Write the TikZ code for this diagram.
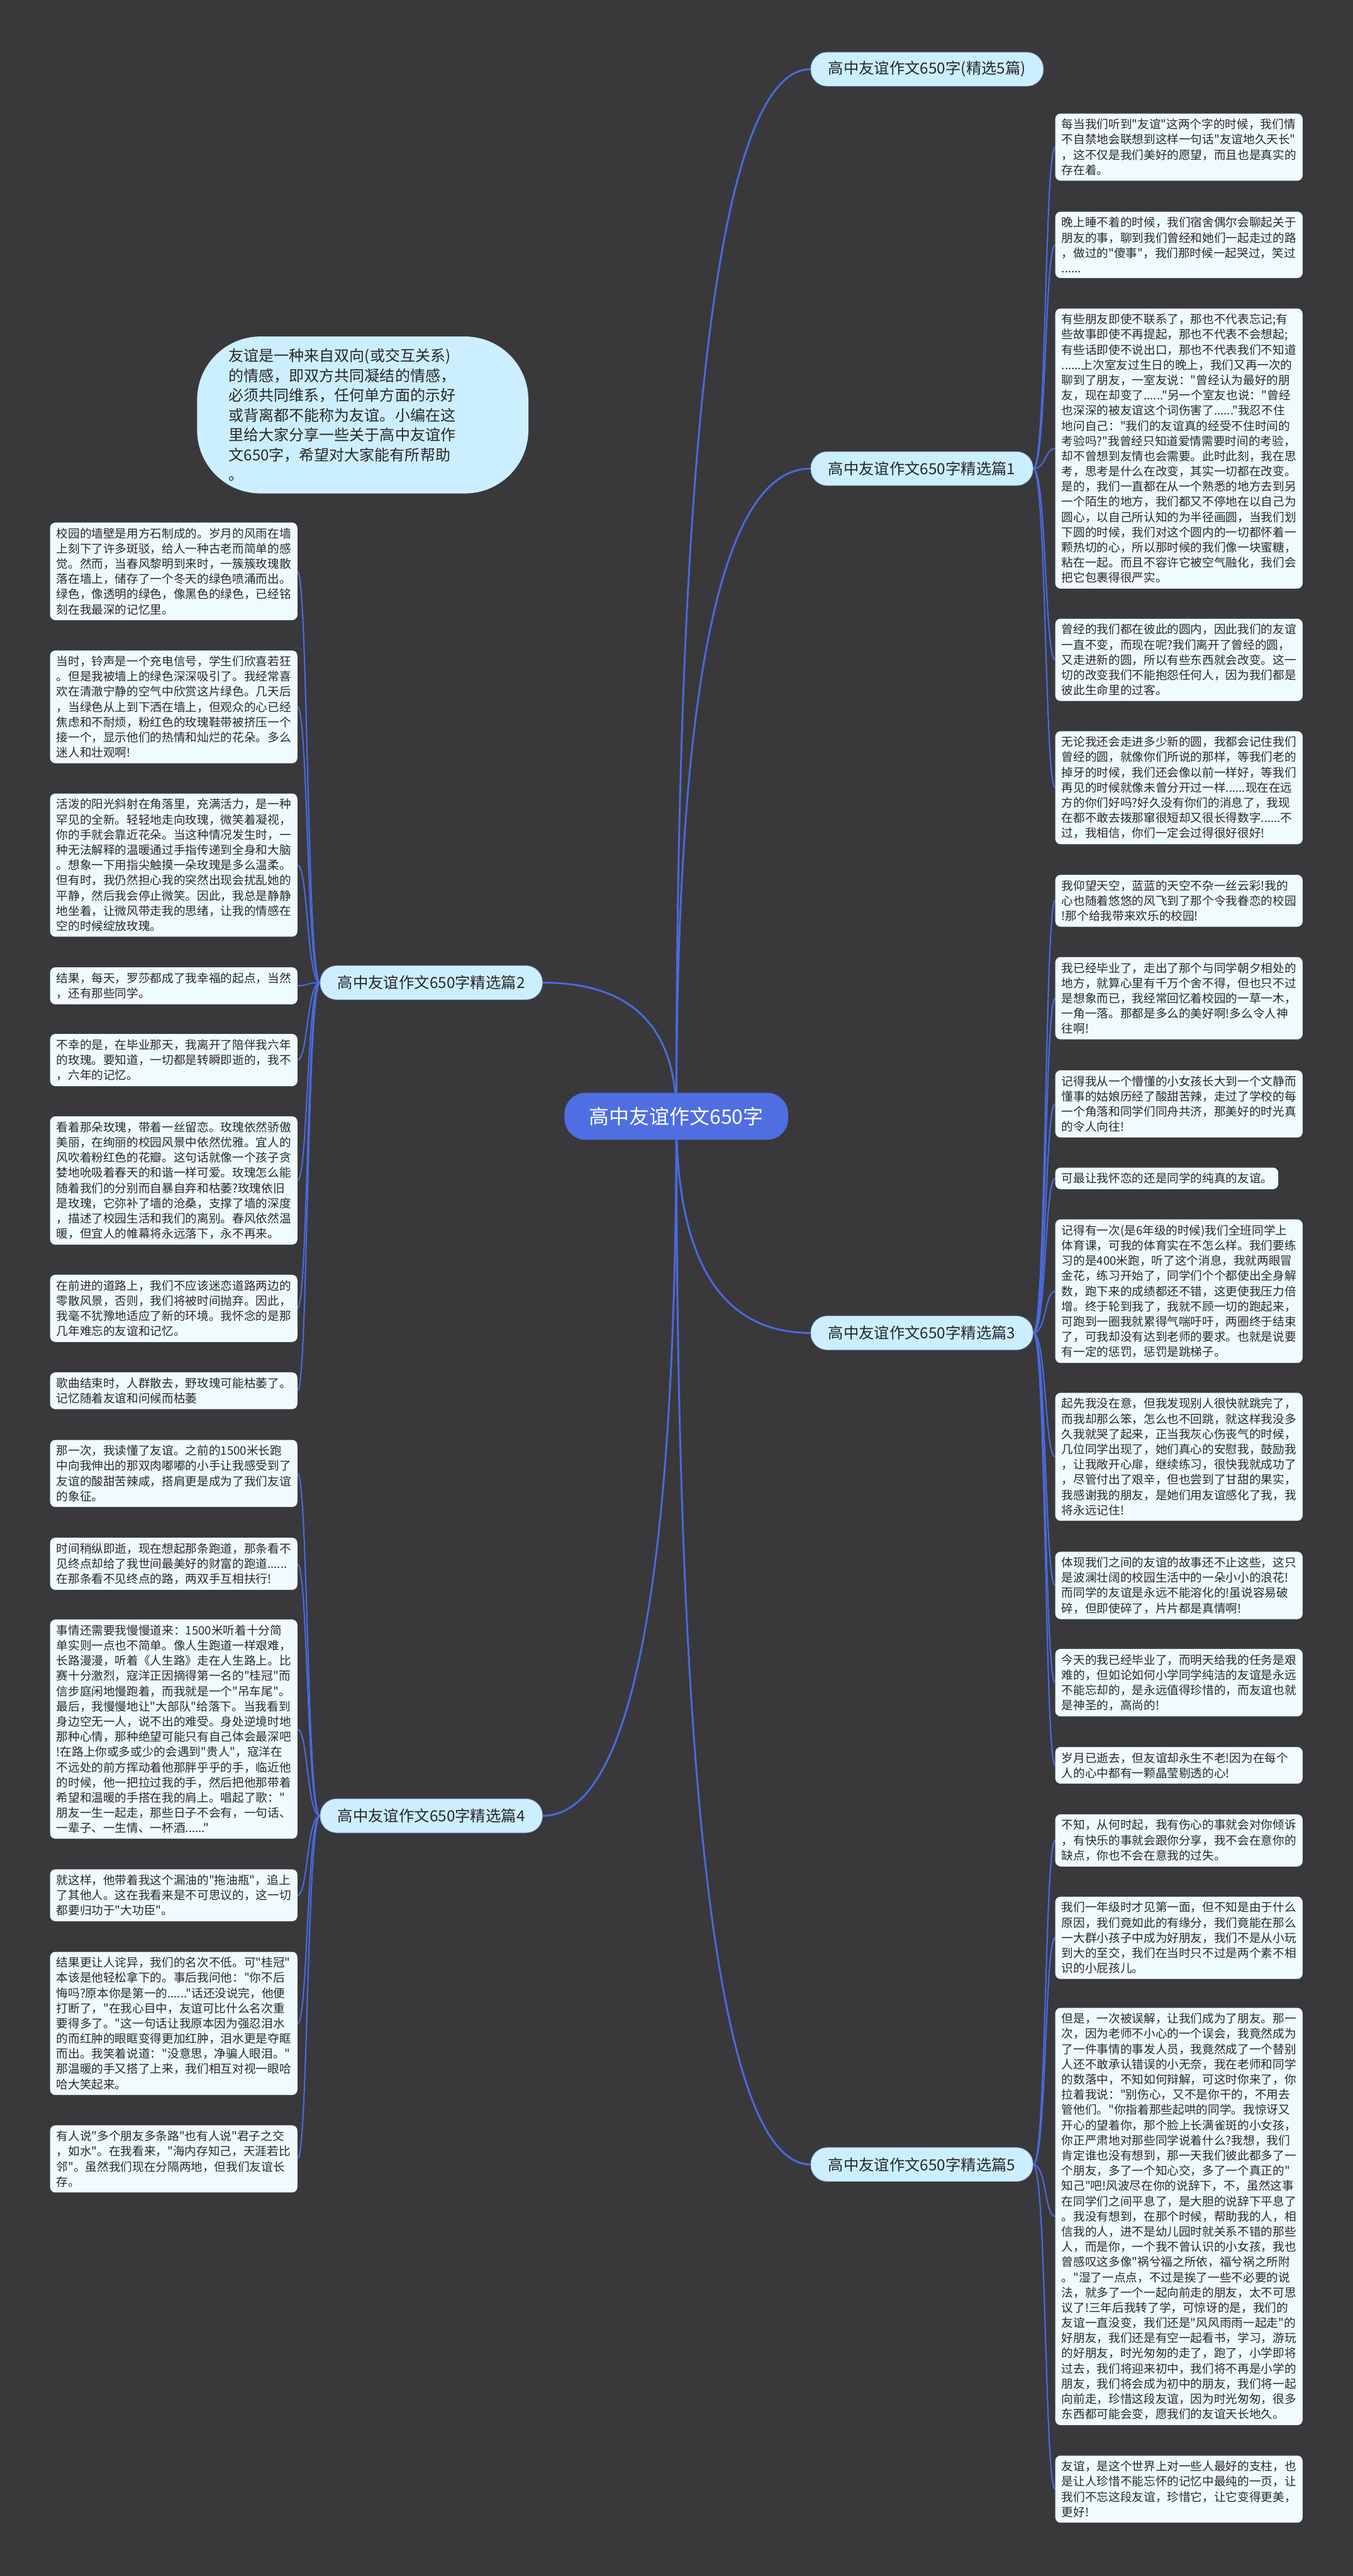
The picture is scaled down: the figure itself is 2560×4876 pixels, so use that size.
\documentclass[tikz,border=0pt]{standalone}
\usepackage{fontspec}
\setmainfont{Noto Sans CJK SC}[Ligatures=TeXOff]
\usetikzlibrary{calc}

\definecolor{canvas}{RGB}{57,57,60}
\definecolor{linkblue}{RGB}{74,106,222}
\definecolor{rootblue}{RGB}{78,110,226}
\definecolor{tagcyan}{RGB}{204,239,255}
\definecolor{notewhite}{RGB}{240,251,255}
\definecolor{inkgray}{RGB}{40,40,40}

\pgfdeclarelayer{bg}
\pgfdeclarelayer{edges}
\pgfsetlayers{bg,edges,main}

\begin{document}
\begin{tikzpicture}[x=1pt, y=-1pt,
  % Node styles
  rootnode/.style={rectangle, fill=rootblue, text=white, rounded corners=40pt, minimum height=89pt, inner xsep=47pt, font=\fontsize{38}{44}\selectfont},
  branch/.style={rectangle, fill=tagcyan, draw=linkblue!55, line width=1pt, rounded corners=31pt, minimum height=64pt, inner xsep=33pt, text=inkgray, font=\fontsize{29}{34}\selectfont},
  summarybox/.style={rectangle, fill=tagcyan, rounded corners=120pt, minimum height=297pt, text width=507pt, inner xsep=60pt, inner ysep=14pt, align=left, text=inkgray, font=\fontsize{28.6}{37.5}\selectfont},
  note/.style={rectangle, fill=notewhite, rounded corners=10pt, text width=444pt, inner xsep=12pt, inner ysep=10pt, align=left, text=inkgray, font=\fontsize{22.2}{28.8}\selectfont},
  rightnote/.style={note, anchor=west},
  leftnote/.style={note, anchor=east},
  % Connector styles
  trunk/.style={linkblue, line width=3.5pt},
  twig/.style={linkblue, line width=2.5pt}
]

% Layer 1: canvas
\useasboundingbox (0,0) rectangle (2560,4876);
\begin{pgfonlayer}{bg}
\fill[canvas] (0,0) rectangle (2560,4876);
\end{pgfonlayer}

% Layer 2: root, summary and branches
\node[rootnode] (root) at (1280,2113) {高中友谊作文650字};
\node[summarybox] (intro) at (686.5,785.5) {友谊是一种来自双向(或交互关系)\\的情感，即双方共同凝结的情感，\\必须共同维系，任何单方面的示好\\或背离都不能称为友谊。小编在这\\里给大家分享一些关于高中友谊作\\文650字，希望对大家能有所帮助\\。};

\node[branch, anchor=west] (pian0) at (1534,131) {高中友谊作文650字(精选5篇)};
\node[branch, anchor=west] (pian1) at (1534,887) {高中友谊作文650字精选篇1};
\node[branch, anchor=east] (pian2) at (1027,1860) {高中友谊作文650字精选篇2};
\node[branch, anchor=west] (pian3) at (1534,2523) {高中友谊作文650字精选篇3};
\node[branch, anchor=east] (pian4) at (1027,3437) {高中友谊作文650字精选篇4};
\node[branch, anchor=west] (pian5) at (1534,4097) {高中友谊作文650字精选篇5};

% Layer 3: notes of part 1
\node[rightnote] (s1a) at (1997,278.5) {每当我们听到"友谊"这两个字的时候，我们情\\不自禁地会联想到这样一句话"友谊地久天长"\\，这不仅是我们美好的愿望，而且也是真实的\\存在着。};
\node[rightnote] (s1b) at (1997,463.5) {晚上睡不着的时候，我们宿舍偶尔会聊起关于\\朋友的事，聊到我们曾经和她们一起走过的路\\，做过的"傻事"，我们那时候一起哭过，笑过\\......};
\node[rightnote] (s1c) at (1997,849) {有些朋友即使不联系了，那也不代表忘记;有\\些故事即使不再提起，那也不代表不会想起;\\有些话即使不说出口，那也不代表我们不知道\\......上次室友过生日的晚上，我们又再一次的\\聊到了朋友，一室友说："曾经认为最好的朋\\友，现在却变了......"另一个室友也说："曾经\\也深深的被友谊这个词伤害了......"我忍不住\\地问自己："我们的友谊真的经受不住时间的\\考验吗?"我曾经只知道爱情需要时间的考验，\\却不曾想到友情也会需要。此时此刻，我在思\\考，思考是什么在改变，其实一切都在改变。\\是的，我们一直都在从一个熟悉的地方去到另\\一个陌生的地方，我们都又不停地在以自己为\\圆心，以自己所认知的为半径画圆，当我们划\\下圆的时候，我们对这个圆内的一切都怀着一\\颗热切的心，所以那时候的我们像一块蜜糖，\\粘在一起。而且不容许它被空气融化，我们会\\把它包裹得很严实。};
\node[rightnote] (s1d) at (1997,1249) {曾经的我们都在彼此的圆内，因此我们的友谊\\一直不变，而现在呢?我们离开了曾经的圆，\\又走进新的圆，所以有些东西就会改变。这一\\切的改变我们不能抱怨任何人，因为我们都是\\彼此生命里的过客。};
\node[rightnote] (s1e) at (1997,1491) {无论我还会走进多少新的圆，我都会记住我们\\曾经的圆，就像你们所说的那样，等我们老的\\掉牙的时候，我们还会像以前一样好，等我们\\再见的时候就像未曾分开过一样......现在在远\\方的你们好吗?好久没有你们的消息了，我现\\在都不敢去拨那窜很短却又很长得数字......不\\过，我相信，你们一定会过得很好很好!};

% Layer 4: notes of part 3
\node[rightnote] (s3a) at (1997,1705) {我仰望天空，蓝蓝的天空不杂一丝云彩!我的\\心也随着悠悠的风飞到了那个令我眷恋的校园\\!那个给我带来欢乐的校园!};
\node[rightnote] (s3b) at (1997,1889.5) {我已经毕业了，走出了那个与同学朝夕相处的\\地方，就算心里有千万个舍不得，但也只不过\\是想象而已，我经常回忆着校园的一草一木，\\一角一落。那都是多么的美好啊!多么令人神\\往啊!};
\node[rightnote] (s3c) at (1997,2089.5) {记得我从一个懵懂的小女孩长大到一个文静而\\懂事的姑娘历经了酸甜苦辣，走过了学校的每\\一个角落和同学们同舟共济，那美好的时光真\\的令人向往!};
\node[rightnote, text width=398pt] (s3d) at (1997,2230.5) {可最让我怀恋的还是同学的纯真的友谊。};
\node[rightnote] (s3e) at (1997,2444) {记得有一次(是6年级的时候)我们全班同学上\\体育课，可我的体育实在不怎么样。我们要练\\习的是400米跑，听了这个消息，我就两眼冒\\金花，练习开始了，同学们个个都使出全身解\\数，跑下来的成绩都还不错，这更使我压力倍\\增。终于轮到我了，我就不顾一切的跑起来，\\可跑到一圈我就累得气喘吁吁，两圈终于结束\\了，可我却没有达到老师的要求。也就是说要\\有一定的惩罚，惩罚是跳梯子。};
\node[rightnote] (s3f) at (1997,2757.5) {起先我没在意，但我发现别人很快就跳完了，\\而我却那么笨，怎么也不回跳，就这样我没多\\久我就哭了起来，正当我灰心伤丧气的时候，\\几位同学出现了，她们真心的安慰我，鼓励我\\，让我敞开心扉，继续练习，很快我就成功了\\，尽管付出了艰辛，但也尝到了甘甜的果实，\\我感谢我的朋友，是她们用友谊感化了我，我\\将永远记住!};
\node[rightnote] (s3g) at (1997,3001) {体现我们之间的友谊的故事还不止这些，这只\\是波澜壮阔的校园生活中的一朵小小的浪花!\\而同学的友谊是永远不能溶化的!虽说容易破\\碎，但即使碎了，片片都是真情啊!};
\node[rightnote] (s3h) at (1997,3185) {今天的我已经毕业了，而明天给我的任务是艰\\难的，但如论如何小学同学纯洁的友谊是永远\\不能忘却的，是永远值得珍惜的，而友谊也就\\是神圣的，高尚的!};
\node[rightnote] (s3i) at (1997,3341.5) {岁月已逝去，但友谊却永生不老!因为在每个\\人的心中都有一颗晶莹剔透的心!};

% Layer 5: notes of part 5
\node[rightnote] (s5a) at (1997,3483.5) {不知，从何时起，我有伤心的事就会对你倾诉\\，有快乐的事就会跟你分享，我不会在意你的\\缺点，你也不会在意我的过失。};
\node[rightnote] (s5b) at (1997,3668) {我们一年级时才见第一面，但不知是由于什么\\原因，我们竟如此的有缘分，我们竟能在那么\\一大群小孩子中成为好朋友，我们不是从小玩\\到大的至交，我们在当时只不过是两个素不相\\识的小屁孩儿。};
\node[rightnote] (s5c) at (1997,4195.5) {但是，一次被误解，让我们成为了朋友。那一\\次，因为老师不小心的一个误会，我竟然成为\\了一件事情的事发人员，我竟然成了一个替别\\人还不敢承认错误的小无奈，我在老师和同学\\的数落中，不知如何辩解，可这时你来了，你\\拉着我说："别伤心，又不是你干的，不用去\\管他们。"你指着那些起哄的同学。我惊讶又\\开心的望着你，那个脸上长满雀斑的小女孩，\\你正严肃地对那些同学说着什么?我想，我们\\肯定谁也没有想到，那一天我们彼此都多了一\\个朋友，多了一个知心交，多了一个真正的"\\知己"吧!风波尽在你的说辞下，不，虽然这事\\在同学们之间平息了，是大胆的说辞下平息了\\。我没有想到，在那个时候，帮助我的人，相\\信我的人，进不是幼儿园时就关系不错的那些\\人，而是你，一个我不曾认识的小女孩，我也\\曾感叹这多像"祸兮福之所依，福兮祸之所附\\。"湿了一点点，不过是挨了一些不必要的说\\法，就多了一个一起向前走的朋友，太不可思\\议了!三年后我转了学，可惊讶的是，我们的\\友谊一直没变，我们还是"风风雨雨一起走"的\\好朋友，我们还是有空一起看书，学习，游玩\\的好朋友，时光匆匆的走了，跑了，小学即将\\过去，我们将迎来初中，我们将不再是小学的\\朋友，我们将会成为初中的朋友，我们将一起\\向前走，珍惜这段友谊，因为时光匆匆，很多\\东西都可能会变，愿我们的友谊天长地久。};
\node[rightnote] (s5d) at (1997,4711.5) {友谊，是这个世界上对一些人最好的支柱，也\\是让人珍惜不能忘怀的记忆中最纯的一页，让\\我们不忘这段友谊，珍惜它，让它变得更美，\\更好!};

% Layer 6: notes of part 2
\node[leftnote] (s2a) at (563,1081.5) {校园的墙壁是用方石制成的。岁月的风雨在墙\\上刻下了许多斑驳，给人一种古老而简单的感\\觉。然而，当春风黎明到来时，一簇簇玫瑰散\\落在墙上，储存了一个冬天的绿色喷涌而出。\\绿色，像透明的绿色，像黑色的绿色，已经铭\\刻在我最深的记忆里。};
\node[leftnote] (s2b) at (563,1338) {当时，铃声是一个充电信号，学生们欣喜若狂\\。但是我被墙上的绿色深深吸引了。我经常喜\\欢在清澈宁静的空气中欣赏这片绿色。几天后\\，当绿色从上到下洒在墙上，但观众的心已经\\焦虑和不耐烦，粉红色的玫瑰鞋带被挤压一个\\接一个，显示他们的热情和灿烂的花朵。多么\\迷人和壮观啊!};
\node[leftnote] (s2c) at (563,1637.5) {活泼的阳光斜射在角落里，充满活力，是一种\\罕见的全新。轻轻地走向玫瑰，微笑着凝视，\\你的手就会靠近花朵。当这种情况发生时，一\\种无法解释的温暖通过手指传递到全身和大脑\\。想象一下用指尖触摸一朵玫瑰是多么温柔。\\但有时，我仍然担心我的突然出现会扰乱她的\\平静，然后我会停止微笑。因此，我总是静静\\地坐着，让微风带走我的思绪，让我的情感在\\空的时候绽放玫瑰。};
\node[leftnote] (s2d) at (563,1866) {结果，每天，罗莎都成了我幸福的起点，当然\\，还有那些同学。};
\node[leftnote] (s2e) at (563,2006.5) {不幸的是，在毕业那天，我离开了陪伴我六年\\的玫瑰。要知道，一切都是转瞬即逝的，我不\\，六年的记忆。};
\node[leftnote] (s2f) at (563,2234.5) {看着那朵玫瑰，带着一丝留恋。玫瑰依然骄傲\\美丽，在绚丽的校园风景中依然优雅。宜人的\\风吹着粉红色的花瓣。这句话就像一个孩子贪\\婪地吮吸着春天的和谐一样可爱。玫瑰怎么能\\随着我们的分别而自暴自弃和枯萎?玫瑰依旧\\是玫瑰，它弥补了墙的沧桑，支撑了墙的深度\\，描述了校园生活和我们的离别。春风依然温\\暖，但宜人的帷幕将永远落下，永不再来。};
\node[leftnote] (s2g) at (563,2476.5) {在前进的道路上，我们不应该迷恋道路两边的\\零散风景，否则，我们将被时间抛弃。因此，\\我毫不犹豫地适应了新的环境。我怀念的是那\\几年难忘的友谊和记忆。};
\node[leftnote] (s2h) at (563,2632.5) {歌曲结束时，人群散去，野玫瑰可能枯萎了。\\记忆随着友谊和问候而枯萎};

% Layer 7: notes of part 4
\node[leftnote] (s4a) at (563,2789) {那一次，我读懂了友谊。之前的1500米长跑\\中向我伸出的那双肉嘟嘟的小手让我感受到了\\友谊的酸甜苦辣咸，搭肩更是成为了我们友谊\\的象征。};
\node[leftnote] (s4b) at (563,2960) {时间稍纵即逝，现在想起那条跑道，那条看不\\见终点却给了我世间最美好的财富的跑道......\\在那条看不见终点的路，两双手互相扶行!};
\node[leftnote] (s4c) at (563,3273) {事情还需要我慢慢道来：1500米听着十分简\\单实则一点也不简单。像人生跑道一样艰难，\\长路漫漫，听着《人生路》走在人生路上。比\\赛十分激烈，寇洋正因摘得第一名的"桂冠"而\\信步庭闲地慢跑着，而我就是一个"吊车尾"。\\最后，我慢慢地让"大部队"给落下。当我看到\\身边空无一人，说不出的难受。身处逆境时地\\那种心情，那种绝望可能只有自己体会最深吧\\!在路上你或多或少的会遇到"贵人"，寇洋在\\不远处的前方挥动着他那胖乎乎的手，临近他\\的时候，他一把拉过我的手，然后把他那带着\\希望和温暖的手搭在我的肩上。唱起了歌："\\朋友一生一起走，那些日子不会有，一句话、\\一辈子、一生情、一杯酒......"};
\node[leftnote] (s4d) at (563,3587.5) {就这样，他带着我这个漏油的"拖油瓶"，追上\\了其他人。这在我看来是不可思议的，这一切\\都要归功于"大功臣"。};
\node[leftnote] (s4e) at (563,3830) {结果更让人诧异，我们的名次不低。可"桂冠"\\本该是他轻松拿下的。事后我问他："你不后\\悔吗?原本你是第一的......"话还没说完，他便\\打断了，"在我心目中，友谊可比什么名次重\\要得多了。"这一句话让我原本因为强忍泪水\\的而红肿的眼眶变得更加红肿，泪水更是夺眶\\而出。我笑着说道："没意思，净骗人眼泪。"\\那温暖的手又搭了上来，我们相互对视一眼哈\\哈大笑起来。};
\node[leftnote] (s4f) at (563,4086.5) {有人说"多个朋友多条路"也有人说"君子之交\\，如水"。在我看来，"海内存知己，天涯若比\\邻"。虽然我们现在分隔两地，但我们友谊长\\存。};

% Layer 8: connectors (behind the boxes)
\begin{pgfonlayer}{edges}
\foreach \b in {pian0,pian1,pian3,pian5} {
  \coordinate (k\b) at (root.center |- \b.west);
  \draw[trunk] (root.center) .. controls ($(root.center)!2/3!(k\b)$) and ($(\b.west)!2/3!(k\b)$) .. (\b.west);
}
\foreach \b in {pian2,pian4} {
  \coordinate (k\b) at (root.center |- \b.east);
  \draw[trunk] (root.center) .. controls ($(root.center)!2/3!(k\b)$) and ($(\b.east)!2/3!(k\b)$) .. (\b.east);
}
\foreach \b/\leaves in {pian1/{s1a,s1b,s1c,s1d,s1e}, pian3/{s3a,s3b,s3c,s3d,s3e,s3f,s3g,s3h,s3i}, pian5/{s5a,s5b,s5c,s5d}}
  \foreach \l in \leaves
    \draw[twig] (\b.east) .. controls +(25,0) and +(-20,0) .. (\l.west);
\foreach \b/\leaves in {pian2/{s2a,s2b,s2c,s2d,s2e,s2f,s2g,s2h}, pian4/{s4a,s4b,s4c,s4d,s4e,s4f}}
  \foreach \l in \leaves
    \draw[twig] (\b.west) .. controls +(-25,0) and +(20,0) .. (\l.east);
\end{pgfonlayer}

\end{tikzpicture}
\end{document}
